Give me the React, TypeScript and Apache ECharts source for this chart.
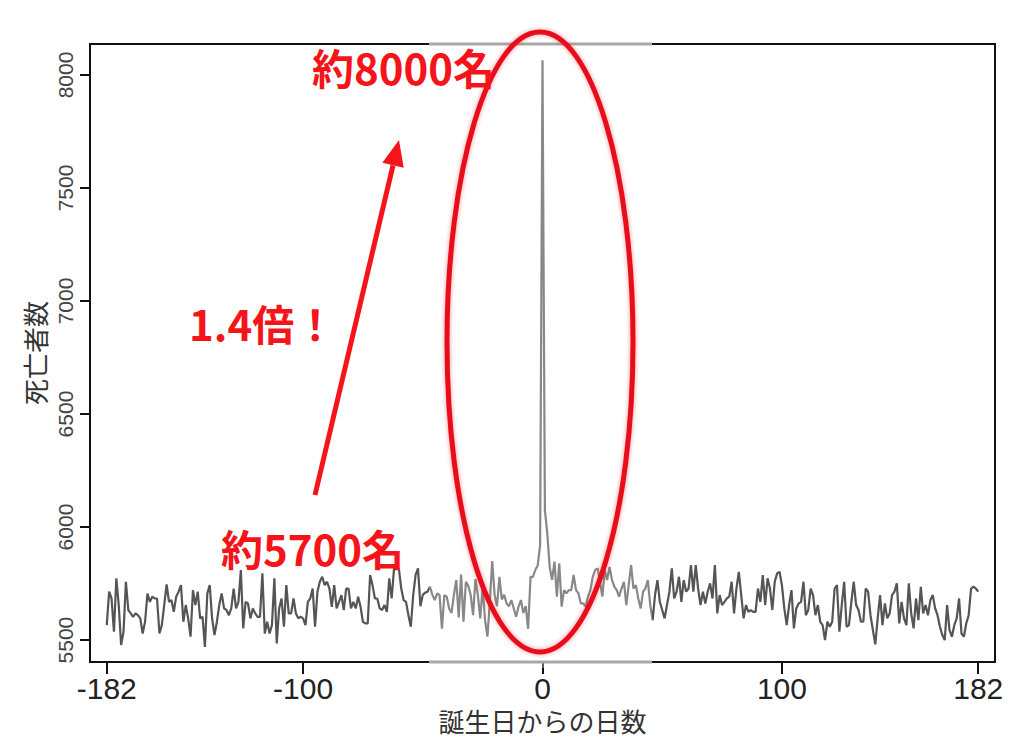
import React, { useEffect, useRef } from 'react';
import * as echarts from 'echarts';

// Days relative to birthday: first day of the series
const firstDay = -182;

// Daily death counts
const deathsEarly = [
  5566, 5714, 5684, 5537, 5773, 5655, 5478, 5537, 5758, 5633,
  5618, 5603, 5618, 5610, 5596, 5529, 5581, 5706, 5669, 5692,
  5684, 5684, 5529, 5566, 5655, 5746, 5669, 5677, 5625, 5692,
  5714, 5743, 5581, 5655, 5596, 5515, 5721, 5655, 5714, 5596,
  5603, 5470, 5706, 5743, 5596, 5522, 5581, 5655, 5706, 5640,
  5633, 5610, 5640, 5728,
];
const deathsMid = [
  5640, 5669, 5810, 5552, 5669, 5662, 5596, 5640, 5618, 5603,
  5603, 5795, 5529, 5581, 5529, 5566, 5773, 5485, 5640, 5684,
  5559, 5743, 5618, 5618, 5684, 5618, 5596, 5603, 5596, 5566,
  5669, 5684, 5728, 5559, 5714, 5758, 5780, 5743, 5758, 5728,
  5647, 5743, 5640, 5669, 5699, 5633, 5728, 5728, 5640, 5669,
  5640, 5692, 5647, 5581,
];
const deathsLate = [
  5574, 5574, 5788, 5743, 5684, 5684, 5640, 5633, 5655, 5625,
  5773, 5684, 5817, 5817, 5817, 5728, 5677, 5669, 5610, 5559,
  5699, 5788, 5817, 5650, 5700, 5710, 5714, 5736, 5700, 5677,
  5707, 5699, 5550, 5699, 5692, 5640, 5620, 5700, 5766, 5600,
  5790, 5581, 5758, 5740, 5700, 5610, 5770, 5700, 5596, 5736,
  5589, 5515, 5669, 5850, 5700, 5650, 5780, 5680, 5700, 5662,
  5650, 5677, 5640, 5603, 5648, 5677, 5620, 5650, 5550, 5780,
  5780, 5810, 5830, 5920,
];
const deathsBirthday = [8065];
const deathsAfter1 = [
  6075, 5972, 5824, 5766, 5847, 5692, 5839, 5648, 5721, 5707,
  5721, 5721, 5788, 5721, 5707, 5662, 5662, 5648, 5692, 5721,
  5780, 5810, 5817, 5760, 5692, 5810, 5766, 5824, 5766, 5736,
  5721, 5692,
  5728, 5758, 5655, 5743, 5832, 5728, 5743, 5684, 5640, 5714,
  5728, 5765, 5655, 5588, 5699, 5765, 5669, 5633, 5596, 5655,
  5714, 5817, 5684, 5714, 5780, 5669, 5765, 5714, 5728, 5832,
  5714, 5832, 5728, 5655, 5714, 5662, 5714, 5751, 5684, 5832,
  5618, 5699, 5655, 5669, 5684, 5692, 5758, 5618, 5728, 5802,
  5699, 5596, 5655, 5625,
];
const deathsAfter2 = [
  5633, 5625, 5625, 5728, 5669, 5788, 5655, 5773, 5728, 5633,
  5758, 5795, 5802, 5743, 5640, 5566, 5655, 5721, 5552, 5640,
  5662, 5669, 5758, 5610, 5633, 5728, 5699, 5610, 5655, 5581,
  5566, 5500, 5581, 5559, 5581, 5728, 5743, 5537, 5655, 5758,
  5559, 5566, 5669, 5758, 5655, 5633, 5581, 5581, 5728, 5714,
  5610, 5544, 5481, 5596, 5699, 5566,
  5662, 5596, 5618, 5699, 5714, 5751, 5574, 5669, 5596, 5566,
  5751, 5618, 5552, 5684, 5588, 5736, 5618, 5655, 5610, 5677,
  5699, 5640, 5610, 5559, 5522, 5500, 5655, 5544, 5515, 5566,
  5596, 5684, 5529, 5515, 5574, 5610, 5728, 5736, 5728, 5714,
];

const xTicks = [-182, -100, 0, 100, 182];
const yTicks = [5500, 6000, 6500, 7000, 7500, 8000];

const xName = '誕生日からの日数';
const yName = '死亡者数';
const noteTop = '約8000名';
const noteRatio = '1.4倍！';
const noteBase = '約5700名';

export default function App() {
  const ref = useRef<HTMLDivElement>(null);

  useEffect(() => {
    if (!ref.current) return;
    const chart = echarts.init(ref.current, null, { renderer: 'svg' });
    const all = [
      ...deathsEarly,
      ...deathsMid,
      ...deathsLate,
      ...deathsBirthday,
      ...deathsAfter1,
      ...deathsAfter2,
    ];
    const data = all.map((v, i) => [firstDay + i, v]);

    const red = '#f5141a';
    const cjk = '"Noto Sans CJK JP", "Noto Sans", sans-serif';

    // arrow geometry
    const tail = [315, 495];
    const tip = [399, 140];
    const dx = tip[0] - tail[0];
    const dy = tip[1] - tail[1];
    const len = Math.sqrt(dx * dx + dy * dy);
    const ux = dx / len;
    const uy = dy / len;
    const headLen = 26;
    const headHalf = 11;
    const bx = tip[0] - ux * headLen;
    const by = tip[1] - uy * headLen;
    const px = -uy;
    const py = ux;

    chart.setOption({
      animation: false,
      grid: {
        left: 90,
        top: 44,
        right: 21,
        bottom: 92,
        show: true,
        borderColor: '#111',
        borderWidth: 2,
      },
      xAxis: {
        type: 'value',
        min: -189,
        max: 189,
        name: xName,
        nameLocation: 'middle',
        nameGap: 44,
        nameTextStyle: { fontSize: 26, color: '#333', fontFamily: cjk },
        axisLine: { show: true, onZero: false, lineStyle: { color: '#111', width: 2 } },
        axisTick: {
          show: true,
          length: 12,
          customValues: xTicks,
          lineStyle: { color: '#111', width: 2 },
        },
        axisLabel: {
          customValues: xTicks,
          fontSize: 30,
          color: '#222',
          margin: 11,
          fontFamily: 'Liberation Sans, Arial, sans-serif',
          formatter: (v: number) => String(v),
        },
        splitLine: { show: false },
      },
      yAxis: {
        type: 'value',
        min: 5403,
        max: 8137,
        name: yName,
        nameLocation: 'middle',
        nameGap: 37,
        nameRotate: 90,
        nameTextStyle: { fontSize: 26, color: '#333', fontFamily: cjk },
        axisLine: { show: true, onZero: false, lineStyle: { color: '#111', width: 2 } },
        axisTick: {
          show: true,
          length: 10,
          customValues: yTicks,
          lineStyle: { color: '#111', width: 2 },
        },
        axisLabel: {
          customValues: yTicks,
          rotate: 90,
          fontSize: 21,
          color: '#444',
          margin: 14,
          fontFamily: 'Liberation Sans, Arial, sans-serif',
          formatter: (v: number) => String(v),
        },
        splitLine: { show: false },
      },
      series: [
        {
          type: 'line',
          data,
          showSymbol: false,
          symbol: 'none',
          lineStyle: { color: '#555', width: 2.2 },
          z: 2,
        },
      ],
      graphic: [
        {
          type: 'rect',
          z: 50,
          shape: { x: 429, y: 38, width: 223, height: 630 },
          style: { fill: 'rgba(255,255,255,0.3)' },
          silent: true,
        },
        {
          type: 'line',
          z: 51,
          shape: { x1: 429, y1: 44, x2: 652, y2: 44 },
          style: { stroke: '#a8a8a8', lineWidth: 3 },
        },
        {
          type: 'line',
          z: 51,
          shape: { x1: 429, y1: 662, x2: 652, y2: 662 },
          style: { stroke: '#a8a8a8', lineWidth: 3 },
        },
        {
          type: 'ellipse',
          z: 60,
          shape: { cx: 540, cy: 342, rx: 93, ry: 310 },
          style: {
            fill: 'none',
            stroke: '#e8101a',
            lineWidth: 5,
            shadowBlur: 4,
            shadowColor: 'rgba(230,30,30,0.5)',
          },
        },
        {
          type: 'line',
          z: 60,
          shape: { x1: tail[0], y1: tail[1], x2: bx, y2: by },
          style: { stroke: red, lineWidth: 5 },
        },
        {
          type: 'polygon',
          z: 60,
          shape: {
            points: [
              [tip[0], tip[1]],
              [bx + px * headHalf, by + py * headHalf],
              [bx - px * headHalf, by - py * headHalf],
            ],
          },
          style: { fill: red },
        },
        {
          type: 'text',
          z: 61,
          x: 312,
          y: 66,
          style: {
            text: noteTop,
            fill: red,
            fontSize: 42,
            fontWeight: 'bold',
            fontFamily: cjk,
            align: 'left',
            verticalAlign: 'middle',
          },
        },
        {
          type: 'text',
          z: 61,
          x: 189,
          y: 322,
          style: {
            text: noteRatio,
            fill: red,
            fontSize: 42,
            fontWeight: 'bold',
            fontFamily: cjk,
            align: 'left',
            verticalAlign: 'middle',
          },
        },
        {
          type: 'text',
          z: 61,
          x: 221,
          y: 547,
          style: {
            text: noteBase,
            fill: red,
            fontSize: 42,
            fontWeight: 'bold',
            fontFamily: cjk,
            align: 'left',
            verticalAlign: 'middle',
          },
        },
      ],
    });

    return () => {
      chart.dispose();
    };
  }, []);

  return (
    <div
      ref={ref}
      style={{ position: 'fixed', left: 0, top: 0, width: 1016, height: 754, background: '#fff' }}
    />
  );
}
